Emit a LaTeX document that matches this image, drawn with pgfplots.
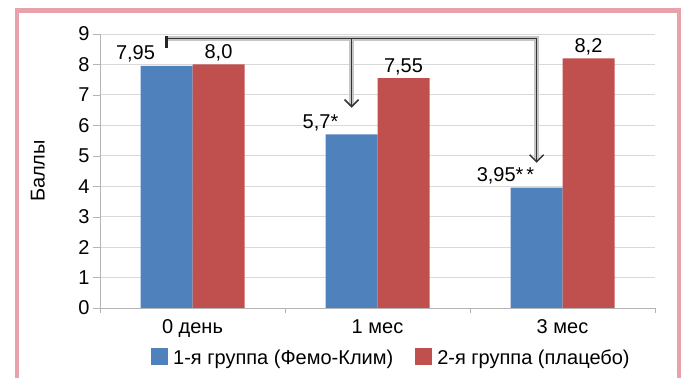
\documentclass[border=0pt]{standalone}
\usepackage{fontspec}
\setmainfont{Liberation Sans}
\usepackage{pgfplots}
\pgfplotsset{compat=1.18}
\usetikzlibrary{arrows.meta}
\definecolor{cblue}{RGB}{79,129,189}
\definecolor{cred}{RGB}{192,80,77}
\definecolor{frame}{RGB}{232,162,172}
\definecolor{gridc}{RGB}{217,217,217}
\definecolor{axc}{RGB}{180,180,180}
\newcommand\fs{\fontsize{20bp}{24bp}\selectfont}
\begin{document}
\begin{tikzpicture}
\begin{axis}[
  at={(100bp,70bp)}, anchor=south west,
  scale only axis, width=555bp, height=274bp,
  ybar=0pt, bar width=52bp,
  xmin=-0.5, xmax=2.5, ymin=0, ymax=9,
  xtick={0,1,2}, xticklabels={0 день,1 мес,3 мес},
  minor xtick={-0.5,0.5,1.5,2.5},
  ytick={0,...,9},
  axis lines*=left,
  axis line style={draw=axc,-},
  tick align=outside,
  major x tick style={draw=none},
  minor x tick style={draw=axc},
  minor tick length=5bp,
  major tick length=7bp,
  y tick style={draw=axc},
  ymajorgrids, grid style={draw=gridc, line width=0.8pt},
  tick label style={font=\fs},
  x tick label style={yshift=-1bp},
  /pgf/number format/assume math mode=true,
  ylabel={Баллы}, ylabel style={font=\fs, at={(axis description cs:-0.112,0.5)}, anchor=center},
  clip=false,
  point meta=explicit symbolic,
  nodes near coords={\pgfplotspointmeta},
  every node near coord/.append style={font=\fs, text=black, anchor=south},
  legend columns=2,
  legend style={at={(axis description cs:0.525,-0.183)}, anchor=center, draw=none, fill=none, font=\fs,
    /tikz/every odd column/.append style={column sep=3bp},
    /tikz/every even column/.append style={column sep=20bp}},
  legend image code/.code={\draw[#1,draw=none] (0bp,-7bp) rectangle (17bp,10bp);},
]
\addplot[fill=cblue, draw=none, every node near coord/.append style={xshift=-31bp}]
  coordinates {(0,7.95) [7,95] (1,5.7) [5,7*] (2,3.95) [3,95*\kern3bp*]};
\addplot[fill=cred, draw=none]
  coordinates {(0,8.0) [8,0] (1,7.55) [7,55] (2,8.2) [8,2]};
\legend{1-я группа (Фемо-Клим),2-я группа (плацебо)}
% bracket arrows
\draw[gray!45, line width=4.5bp] (axis cs:-0.14,8.85) -- (axis cs:1.86,8.85) -- (axis cs:1.86,4.85);
\draw[gray!45, line width=4.5bp] (axis cs:0.86,8.85) -- (axis cs:0.86,6.65);
\draw[black!80, line width=1.5bp] (axis cs:-0.14,8.85) -- (axis cs:1.86,8.85);
\draw[black!80, line width=1.5bp, -{Straight Barb[length=7bp,width=14bp,line width=1.5bp]}] (axis cs:1.86,8.85) -- (axis cs:1.86,4.77);
\draw[black!80, line width=1.5bp, -{Straight Barb[length=7bp,width=14bp,line width=1.5bp]}] (axis cs:0.86,8.85) -- (axis cs:0.86,6.58);
\draw[black!85, line width=3bp] (axis cs:-0.14,8.55) -- (axis cs:-0.14,8.92);
\end{axis}
\draw[frame, line width=4.5bp] (17bp,0) -- (17bp,367.5bp) -- (679.5bp,367.5bp) -- (679.5bp,0);
\pgfresetboundingbox
\path[use as bounding box] (0,0) rectangle (681bp,378bp);
\end{tikzpicture}
\end{document}
